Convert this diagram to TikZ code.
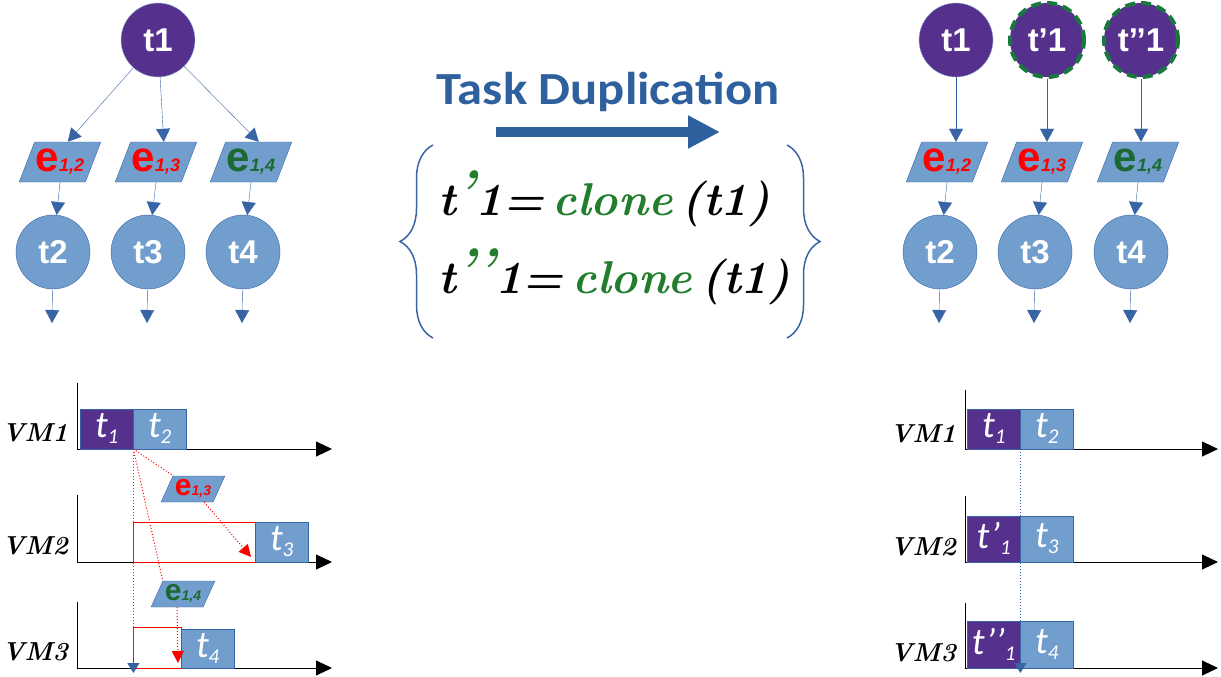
\documentclass[tikz,border=0pt]{standalone}
\usepackage{fontspec}
\newfontfamily\nodefont{Liberation Sans}
\newfontfamily\boxfont{Carlito}
\usetikzlibrary{arrows.meta,shapes.geometric,decorations.pathreplacing}
\definecolor{TaskPurple}{RGB}{85,48,140}
\definecolor{TaskBlue}{RGB}{114,158,206}
\definecolor{LinkBlue}{RGB}{56,100,165}
\definecolor{TitleBlue}{RGB}{46,96,158}
\definecolor{CloneGreen}{RGB}{34,125,44}
\definecolor{EdgeGreen}{RGB}{28,105,50}
\definecolor{DashGreen}{RGB}{24,120,62}

% e label and task label with subscript
\newcommand{\elab}[3]{{\fontsize{#2}{#2}\selectfont e}{\fontsize{#3}{#3}\selectfont\itshape #1}}
\newcommand{\tlab}[2]{#1\raisebox{-6pt}{\fontsize{21}{21}\selectfont #2}}
\newcommand{\prm}[1]{\textcolor{CloneGreen}{\raisebox{6pt}{\fontsize{56}{56}\selectfont #1}}}

\begin{document}
\begin{tikzpicture}[x=1pt, y=-1pt,
        task/.style={circle, draw=LinkBlue, fill=TaskBlue, minimum size=74pt, inner sep=0pt, text=white, font=\nodefont\bfseries\fontsize{33}{33}\selectfont},
        root/.style={task, fill=TaskPurple, draw=TaskBlue!70},
        clone/.style={root, draw=DashGreen, line width=4pt, dash pattern=on 10pt off 6pt},
        edata/.style={trapezium, trapezium left angle=60, trapezium right angle=120, trapezium stretches=true, draw=LinkBlue, fill=TaskBlue, minimum width=82pt, minimum height=40pt, inner sep=0pt, font=\nodefont\bfseries},
        edatasmall/.style={edata, minimum width=64pt, minimum height=26pt},
        link/.style={LinkBlue, -{Triangle[length=13pt, width=14pt]}},
        slot/.style={draw=LinkBlue, fill=TaskBlue, minimum width=53pt, minimum height=40pt, inner sep=0pt, anchor=south west, text=white, font=\boxfont\itshape\fontsize{38}{38}\selectfont},
        slotroot/.style={slot, fill=TaskPurple},
        wait/.style={draw=red, fill=white, inner sep=0pt, anchor=south west},
        axis/.style={line width=0.9pt, -{Triangle[length=16pt, width=15pt]}},
        vmlabel/.style={font=\bfseries\itshape\fontsize{26}{26}\selectfont},
        reddot/.style={red, dotted, line width=1pt},
        bluedot/.style={LinkBlue, dotted, line width=1pt, -{Triangle[length=10pt, width=12pt]}},
        eqtext/.style={font=\bfseries\itshape\fontsize{46}{46}\selectfont, anchor=base west, inner sep=0pt},
        brace/.style={decorate, decoration={brace, amplitude=33pt}, LinkBlue, line width=1.5pt}
    ]
        \useasboundingbox (0,0) rectangle (1221,677);

        % DAG before duplication
        \node[root] (lt1) at (158,40) {t1};
        \node[edata] (le12) at (60,162) {\textcolor{red}{\elab{1,2}{42}{18}}};
        \node[edata] (le13) at (156,162) {\textcolor{red}{\elab{1,3}{42}{18}}};
        \node[edata] (le14) at (251,162) {\textcolor{EdgeGreen}{\elab{1,4}{42}{18}}};
        \node[task] (lt2) at (53,252) {t2};
        \node[task] (lt3) at (148,252) {t3};
        \node[task] (lt4) at (243,252) {t4};
        \foreach \n in {2,3,4} {
            \draw[link] (lt1) -- (le1\n.top side);
            \draw[link] (le1\n.south) -- (lt\n);
            \draw[link] (lt\n) -- ++(-1,71);
        }

        % DAG after duplication
        \node[root] (rt1) at (956,40) {t1};
        \node[clone] (rt1a) at (1047,40) {t’1};
        \node[clone] (rt1b) at (1141,40) {t’’1};
        \node[edata] (re12) at (947,162) {\textcolor{red}{\elab{1,2}{42}{18}}};
        \node[edata] (re13) at (1042,162) {\textcolor{red}{\elab{1,3}{42}{18}}};
        \node[edata] (re14) at (1138,162) {\textcolor{EdgeGreen}{\elab{1,4}{42}{18}}};
        \node[task] (rt2) at (940,252) {t2};
        \node[task] (rt3) at (1035,252) {t3};
        \node[task] (rt4) at (1131,252) {t4};
        \draw[link] (rt1) -- (rt1 |- re12.north);
        \draw[link] (rt1a) -- (rt1a |- re13.north);
        \draw[link] (rt1b) -- (rt1b |- re14.north);
        \foreach \n in {2,3,4} {
            \draw[link] (re1\n.south) -- (rt\n);
            \draw[link] (rt\n) -- ++(-1,71);
        }

        % Task duplication
        \node[font=\boxfont\bfseries\fontsize{46}{46}\selectfont, text=TitleBlue] (dup) at (608,92) {\scalebox{1.1}[1]{Task Duplication}};
        \coordinate (dupa) at (496,132);
        \coordinate (dupb) at (720,132);
        \draw[TitleBlue, line width=10pt, -{Triangle[length=32pt, width=31pt]}] (dupa) -- (dupb);
        \coordinate (bl1) at (433,338);
        \coordinate (bl2) at (433,145);
        \coordinate (br1) at (787,145);
        \coordinate (br2) at (787,338);
        \draw[brace] (bl1) -- (bl2);
        \draw[brace] (br1) -- (br2);
        \node[eqtext] (eq1) at (438,215) {t\prm{’}1=\kern9pt\textcolor{CloneGreen}{clone}\kern9pt(t1)};
        \node[eqtext] (eq2) at (438,293) {t\prm{’’}1=\kern9pt\textcolor{CloneGreen}{clone}\kern9pt(t1)};

        % Schedule without duplication
        \foreach \n/\y/\top in {1/449/383, 2/562/495, 3/668/602} {
            \draw[axis] (77,\top) |- (332,\y);
            \node[vmlabel] (lvm\n) at (35,\y-16) {VM\n};
        }
        \node[slotroot] (ls1) at (80,449) {\tlab{t}{1}};
        \node[slot] (ls2) at (133,449) {\tlab{t}{2}};
        \node[wait, minimum width=122pt, minimum height=40pt] (lw3) at (133,562) {};
        \node[slot] (ls3) at (255,562) {\tlab{t}{3}};
        \node[wait, minimum width=48pt, minimum height=41pt] (lw4) at (133,668) {};
        \node[slot, minimum height=39pt] (ls4) at (181,668) {\tlab{t}{4}};
        \node[edatasmall] (se13) at (193,489) {\textcolor{red}{\elab{1,3}{30}{14}}};
        \node[edatasmall] (se14) at (183,594) {\textcolor{EdgeGreen}{\elab{1,4}{30}{14}}};
        \coordinate (a3) at (251,557);
        \coordinate (a4) at (178,663);
        \draw[reddot] (ls1.south east) -- (se13);
        \draw[reddot, -{Triangle[length=12pt, width=12pt]}] (se13) -- (a3);
        \draw[reddot] (ls1.south east) -- (se14.top left corner);
        \draw[reddot, -{Triangle[length=12pt, width=12pt]}] (se14.bottom side) -- (a4);
        \draw[bluedot] (ls1.south east) -- ++(0,224);

        % Schedule with duplication
        \foreach \n/\y/\top in {1/449/390, 2/562/496, 3/668/603} {
            \draw[axis] (965,\top) |- (1218,\y);
            \node[vmlabel] (rvm\n) at (923,\y-15) {VM\n};
        }
        \node[slotroot] (rs1) at (967,449) {\tlab{t}{1}};
        \node[slot] (rs2) at (1020,449) {\tlab{t}{2}};
        \node[slotroot, minimum height=46pt] (rs1a) at (967,562) {\tlab{t’}{1}};
        \node[slot, minimum height=46pt] (rs3) at (1020,562) {\tlab{t}{3}};
        \node[slotroot, minimum height=47pt] (rs1b) at (967,668) {\tlab{t’’}{1}};
        \node[slot, minimum height=47pt] (rs4) at (1020,668) {\tlab{t}{4}};
        \draw[bluedot] (rs1.south east) -- ++(0,224);
    \end{tikzpicture}
\end{document}
